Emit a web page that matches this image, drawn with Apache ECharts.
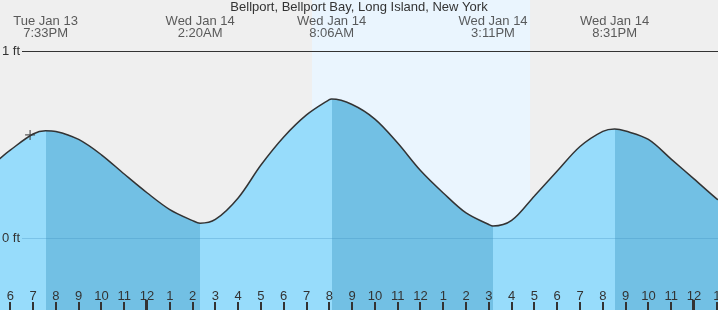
<!DOCTYPE html>
<html><head><meta charset="utf-8">
<script src="https://cdn.jsdelivr.net/npm/echarts@6/dist/echarts.min.js"></script>
<style>html,body{margin:0;padding:0;background:#efefef}#c{width:718px;height:310px}</style>
</head><body><div id="c"></div>
<script>
const chartTitle = 'Bellport, Bellport Bay, Long Island, New York';
// time in hours since Tue Jan 13 00:00, height in feet
const tideHours = [17.5, 18, 19, 19.55, 20, 21, 22, 23, 24, 25, 26, 26.33, 27, 28, 29, 30, 31, 32, 32.1, 33, 34, 35, 36, 37, 38, 39, 39.18, 40, 41, 42, 43, 44, 44.52, 45, 46, 47, 48, 49, 49.1];
const tideFeet  = [0.42, 0.47, 0.556, 0.574, 0.57, 0.527, 0.445, 0.342, 0.242, 0.152, 0.093, 0.079, 0.099, 0.214, 0.39, 0.54, 0.658, 0.74, 0.743, 0.714, 0.636, 0.508, 0.361, 0.241, 0.134, 0.072, 0.064, 0.094, 0.225, 0.358, 0.489, 0.57, 0.583, 0.572, 0.527, 0.422, 0.316, 0.209, 0.204];
const eventHours = [19.55, 26.333, 32.1, 39.183, 44.517];
const eventTypes = ['high', 'low', 'high', 'low', 'high'];
const eventLabels = ['Tue Jan 13\n7:33PM', 'Wed Jan 14\n2:20AM', 'Wed Jan 14\n8:06AM', 'Wed Jan 14\n3:11PM', 'Wed Jan 14\n8:31PM'];
const sunriseHour = 31.24, sunsetHour = 40.81;
const nowHour = 18.87, nowFeet = 0.551;
const hourTicks = [18,19,20,21,22,23,24,25,26,27,28,29,30,31,32,33,34,35,36,37,38,39,40,41,42,43,44,45,46,47,48,49];
const midnightTicks = [24, 48];
const footTicks = [0, 1];

const xMin = 17.55, xMax = 49.055;
const yMin = -0.385, yMax = 1.2727;
const risingColor = '#97dcfb', fallingColor = '#72c0e4';
const FONT = 'Liberation Sans';

const tideData = tideHours.map((h, i) => [h, tideFeet[i]]);
const pieces = [];
let prev = -Infinity;
eventHours.forEach((h, i) => {
  pieces.push({ min: prev, max: h, color: eventTypes[i] === 'high' ? risingColor : fallingColor });
  prev = h;
});
pieces.push({ min: prev, max: Infinity, color: eventTypes[eventTypes.length - 1] === 'high' ? fallingColor : risingColor });

// one tick series: midnight ticks are thicker and longer
const tickData = hourTicks.map(h => {
  const mid = midnightTicks.indexOf(h) >= 0;
  return [h, yMin, mid ? 3 : 2, mid ? 10 : 8];
});

const chart = echarts.init(document.getElementById('c'));
chart.setOption({
  animation: false,
  backgroundColor: '#efefef',
  textStyle: { fontFamily: FONT },
  title: { text: chartTitle, left: 'center', top: 1, padding: 0,
    textStyle: { fontSize: 13, fontWeight: 'normal', color: '#333', fontFamily: FONT } },
  grid: [
    { left: 0, right: 0, top: 0, bottom: 0, outerBoundsMode: 'none', containLabel: false },
    { left: 22, right: 0, top: 0, bottom: 0, outerBoundsMode: 'none', containLabel: false }
  ],
  xAxis: [
    { type: 'value', gridIndex: 0, min: xMin, max: xMax, position: 'bottom', z: 10,
      axisLine: { show: false, onZero: false }, splitLine: { show: false }, axisTick: { show: false },
      axisLabel: { show: true, inside: true, margin: 7, customValues: hourTicks.slice(), color: '#333', fontSize: 13, fontFamily: FONT,
        formatter: v => String((Math.round(v) % 12) || 12) } },
    { type: 'value', gridIndex: 1, min: xMin, max: xMax, show: false, axisLine: { onZero: false } }
  ],
  yAxis: [
    { type: 'value', gridIndex: 0, min: yMin, max: yMax, show: false, axisLine: { onZero: false } },
    { type: 'value', gridIndex: 1, min: yMin, max: yMax, position: 'left', z: 10,
      axisLine: { show: false, onZero: false }, axisTick: { show: false }, splitLine: { show: false },
      axisLabel: { show: true, margin: 2, customValues: footTicks, color: '#333', fontSize: 13, fontFamily: FONT,
        formatter: v => v + ' ft' } }
  ],
  visualMap: { show: false, type: 'piecewise', dimension: 0, seriesIndex: 1, pieces: pieces },
  series: [
    { type: 'line', xAxisIndex: 0, yAxisIndex: 0, data: [], silent: true, z: 0,
      markArea: { silent: true, itemStyle: { color: '#eaf5fe' }, data: [[{ xAxis: sunriseHour }, { xAxis: sunsetHour }]] } },
    { type: 'line', xAxisIndex: 0, yAxisIndex: 0, data: tideData, smooth: 0.33, showSymbol: false, silent: true, z: 2,
      lineStyle: { color: '#333', width: 1.5 },
      areaStyle: { opacity: 1, origin: 'start' } },
    { type: 'line', xAxisIndex: 1, yAxisIndex: 1, data: [], silent: true, z: 5,
      markLine: { silent: true, symbol: 'none', label: { show: false },
        data: [
          { yAxis: 1, lineStyle: { color: '#333', width: 1, type: 'solid' } },
          { yAxis: 0, lineStyle: { color: 'rgba(60,140,190,0.3)', width: 1, type: 'solid' } }
        ] } },
    { type: 'scatter', xAxisIndex: 0, yAxisIndex: 0, silent: true, clip: false, z: 6,
      data: eventHours.map((h, i) => ({ value: [h, yMax], label: { formatter: eventLabels[i] } })),
      symbolSize: 0,
      label: { show: true, position: 'bottom', distance: 15, color: '#333', fontSize: 13, lineHeight: 12, fontFamily: FONT, align: 'center' } },
    { type: 'scatter', xAxisIndex: 0, yAxisIndex: 0, silent: true, z: 7,
      data: [[nowHour, nowFeet]],
      symbol: 'path://M4.4,0H5.6V4.4H10V5.6H5.6V10H4.4V5.6H0V4.4H4.4Z', symbolSize: 10,
      itemStyle: { color: '#333' } },
    { type: 'custom', xAxisIndex: 0, yAxisIndex: 0, silent: true, clip: false, z: 12,
      data: tickData, encode: { x: 0, y: 1 },
      renderItem: (params, api) => {
        const p = api.coord([api.value(0), api.value(1)]);
        const w = api.value(2), len = api.value(3);
        return { type: 'rect', shape: { x: Math.round(p[0] - w / 2), y: p[1] - len, width: w, height: len },
          style: { fill: '#333' } };
      } }
  ]
});
</script></body></html>
